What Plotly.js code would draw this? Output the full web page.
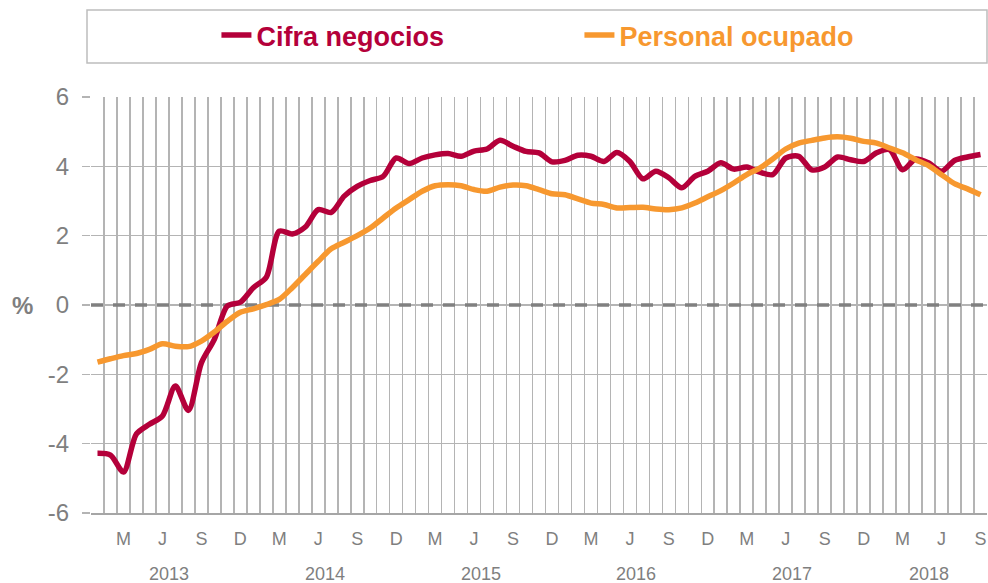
<!DOCTYPE html>
<html>
<head>
<meta charset="utf-8">
<script src="https://cdn.plot.ly/plotly-3.0.1.min.js"></script>
<style>html,body{margin:0;padding:0;background:#fff;}#chart{width:988px;height:583px;}</style>
</head>
<body>
<div id="chart"></div>
<script>
// Monthly series, Jan 2013 .. Sep 2018 (%)
const cifraNegocios = [
  -4.28, -4.33, -4.82, -3.72, -3.44, -3.20, -2.34, -3.04, -1.67, -0.99, -0.03, 0.08,
  0.50, 0.80, 2.13, 2.05, 2.25, 2.75, 2.67, 3.14, 3.42, 3.59, 3.71, 4.24,
  4.08, 4.24, 4.33, 4.37, 4.29, 4.44, 4.50, 4.75, 4.58, 4.43, 4.39, 4.13,
  4.17, 4.32, 4.29, 4.14, 4.40, 4.14, 3.64, 3.86, 3.67, 3.38, 3.71, 3.86,
  4.10, 3.92, 3.98, 3.83, 3.76, 4.24, 4.29, 3.90, 3.98, 4.27, 4.19, 4.14,
  4.39, 4.48, 3.90, 4.21, 4.10, 3.86, 4.17, 4.27, 4.34
];
const personalOcupado = [
  -1.65, -1.55, -1.46, -1.40, -1.28, -1.12, -1.19, -1.20, -1.04, -0.78, -0.47, -0.21,
  -0.11, 0.01, 0.16, 0.50, 0.88, 1.26, 1.62, 1.81, 2.00, 2.22, 2.51, 2.80,
  3.04, 3.28, 3.44, 3.47, 3.44, 3.33, 3.28, 3.40, 3.46, 3.44, 3.33, 3.21,
  3.18, 3.06, 2.94, 2.90, 2.80, 2.81, 2.82, 2.77, 2.75, 2.80, 2.94, 3.12,
  3.30, 3.52, 3.76, 3.95, 4.21, 4.50, 4.67, 4.75, 4.82, 4.85, 4.81, 4.72,
  4.67, 4.53, 4.39, 4.19, 4.02, 3.76, 3.50, 3.35, 3.18
];
const monthLetters = ['E','F','M','A','M','J','J','A','S','O','N','D'];
const years = ['2013','2014','2015','2016','2017','2018'];
const seriesNames = ['Cifra negocios', 'Personal ocupado'];
const seriesColors = ['#b4003a', '#f7982f'];
const yTicks = [-6, -4, -2, 0, 2, 4, 6];
const yTickText = ['-6', '-4', '-2', '0', '2', '4', '6'];

const n = cifraNegocios.length;
const xIdx = Array.from({length: n}, (_, i) => i);
const labelPos = xIdx.filter(i => i % 3 === 2);
const labelText = labelPos.map(i => monthLetters[i % 12]);
const gridPos = Array.from({length: n + 1}, (_, i) => i - 0.5);

const font = "'Liberation Sans', Arial, sans-serif";
const gray = '#7f7f7f';
const gridCol = '#b4b4b4';

// zero reference line (dashed), drawn under the series
const zeroTrace = {
  x: [-0.5, n - 0.5], y: [0, 0], type: 'scatter', mode: 'lines',
  line: {color: '#808080', width: 3.5, dash: '12px,10px'},
  showlegend: false, hoverinfo: 'skip'
};

const traces = [zeroTrace].concat([cifraNegocios, personalOcupado].map((vals, k) => ({
  x: xIdx, y: vals, type: 'scatter', mode: 'lines',
  name: '<b><span style="color:' + seriesColors[k] + '">' + seriesNames[k] + '</span></b>',
  line: {color: seriesColors[k], width: 5.5, shape: 'spline', smoothing: 0.8},
  hoverinfo: 'skip'
})));

const annotations = years.map((yr, j) => {
  const start = j * 12;
  const end = Math.min(start + 11, n - 1);
  return {
    x: (start + end) / 2, xref: 'x', y: -61 / 416, yref: 'paper',
    text: yr, showarrow: false, xanchor: 'center', yanchor: 'middle',
    font: {family: font, size: 18, color: gray}
  };
});
annotations.push({
  x: -69 / 896, xref: 'paper', y: 0, yref: 'y', text: '<b>%</b>', showarrow: false,
  xanchor: 'center', yanchor: 'middle', font: {family: font, size: 24, color: gray}
});

const layout = {
  width: 988, height: 583,
  margin: {l: 91, r: 1, t: 97, b: 70},
  paper_bgcolor: '#ffffff', plot_bgcolor: '#ffffff',
  font: {family: font, color: gray},
  showlegend: true,
  legend: {
    orientation: 'h', x: 0.14, xanchor: 'left', y: 1.148, yanchor: 'middle',
    entrywidth: 318, entrywidthmode: 'pixels',
    font: {family: font, size: 27, color: '#333'},
    bgcolor: 'rgba(0,0,0,0)', borderwidth: 0, itemclick: false, itemdoubleclick: false
  },
  xaxis: {
    range: [-0.5, n - 0.5], showgrid: false, zeroline: false,
    tickmode: 'array', tickvals: labelPos, ticktext: labelText,
    tickfont: {family: font, size: 18, color: gray}, ticks: '', ticklabelstandoff: 8,
    showline: true, linecolor: '#a6a6a6', linewidth: 2,
    minor: {tickmode: 'array', tickvals: gridPos, showgrid: true, gridcolor: gridCol, gridwidth: 1.6, ticks: ''},
    fixedrange: true
  },
  yaxis: {
    range: [-6, 6], tickmode: 'array', tickvals: yTicks, ticktext: yTickText,
    showgrid: true, gridcolor: gridCol, gridwidth: 1.6, zeroline: false,
    ticks: 'outside', ticklen: 8, tickcolor: gridCol, tickwidth: 1.6,
    tickfont: {family: font, size: 24, color: gray}, ticklabelstandoff: 8,
    showline: false, fixedrange: true
  },
  shapes: [
    {type: 'rect', xref: 'paper', yref: 'paper', x0: -4 / 896, x1: 1, y0: 450 / 416, y1: 503 / 416,
     line: {color: '#bdbdbd', width: 1.5}, fillcolor: 'rgba(0,0,0,0)', layer: 'below'}
  ],
  annotations: annotations
};

Plotly.newPlot('chart', traces, layout, {displayModeBar: false, staticPlot: true});
</script>
</body>
</html>
